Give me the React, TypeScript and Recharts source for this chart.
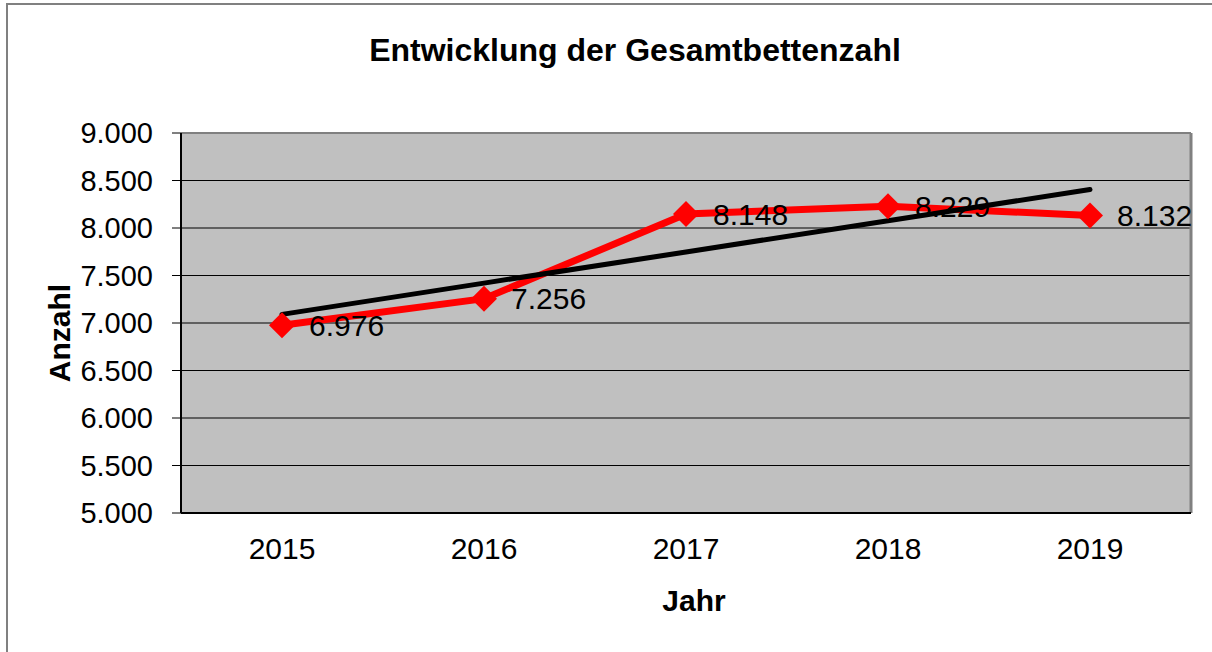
import React from 'react';
import { LineChart, Line, XAxis, YAxis, CartesianGrid, ReferenceLine, LabelList } from 'recharts';

const years = [2015, 2016, 2017, 2018, 2019];
const beds = [6976, 7256, 8148, 8229, 8132];
const trend = [7091, 7420, 7748, 8077, 8405];
const yTicks = [5000, 5500, 6000, 6500, 7000, 7500, 8000, 8500, 9000];
const bandEdges = [2014.5, 2015.5, 2016.5, 2017.5, 2018.5, 2019.5];

const data = years.map((y, i) => ({ year: y, beds: beds[i], trend: trend[i] }));

const fmt = (v: number) => v.toLocaleString('de-DE');
const FONT = 'Liberation Sans, Arial, sans-serif';

const Diamond = (props: any) => {
  const { cx, cy } = props;
  if (cx == null || cy == null) return null;
  const r = 13;
  return (
    <polygon
      points={`${cx},${cy - r} ${cx + r},${cy} ${cx},${cy + r} ${cx - r},${cy}`}
      fill="#FF0000"
      stroke="none"
    />
  );
};

const ValueLabel = (props: any) => {
  const { x, y, value } = props;
  return (
    <text x={x + 27} y={y} dy="0.36em" fontSize={30} fill="#000" fontFamily={FONT}>
      {fmt(value)}
    </text>
  );
};

export default function App() {
  return (
    <div style={{ position: 'absolute', left: 0, top: 0, width: 1212, height: 652, background: '#fff', overflow: 'hidden', fontFamily: FONT }}>
      <div style={{ position: 'absolute', left: 6, top: 3, width: 1300, height: 800, borderLeft: '2px solid #808080', borderTop: '2px solid #808080' }} />
      <div style={{ position: 'absolute', left: 0, top: 30, width: 1270, textAlign: 'center', fontSize: 32, fontWeight: 'bold', color: '#000', lineHeight: '40px' }}>
        Entwicklung der Gesamtbettenzahl
      </div>
      <div style={{ position: 'absolute', left: 60, top: 333, width: 0, height: 0 }}>
        <div style={{ position: 'absolute', left: -100, top: -20, width: 200, textAlign: 'center', fontSize: 30, fontWeight: 'bold', lineHeight: '40px', transform: 'rotate(-90deg)' }}>
          Anzahl
        </div>
      </div>
      <div style={{ position: 'absolute', left: 594, top: 581, width: 200, textAlign: 'center', fontSize: 30, fontWeight: 'bold', lineHeight: '40px' }}>
        Jahr
      </div>
      <div style={{ position: 'absolute', left: 0, top: 0 }}>
        <LineChart width={1212} height={652} data={data} margin={{ top: 133, right: 21, bottom: 98, left: 101 }}>
          <CartesianGrid xAxisId="grid" vertical={false} stroke="#000" strokeWidth={1} fill="#C0C0C0" fillOpacity={1} />
          <CartesianGrid xAxisId="grid" horizontal={false} stroke="#000" strokeWidth={1} strokeDasharray="5 3" />
          <XAxis
            xAxisId="grid"
            type="number"
            dataKey="year"
            domain={[2014.5, 2019.5]}
            ticks={bandEdges}
            tick={false}
            tickSize={8}
            height={1}
            axisLine={{ stroke: '#000', strokeWidth: 2 }}
            tickLine={{ stroke: '#000', strokeWidth: 1 }}
            allowDataOverflow
          />
          <XAxis
            xAxisId="years"
            type="number"
            dataKey="year"
            domain={[2014.5, 2019.5]}
            ticks={years}
            tickFormatter={(v: number) => String(v)}
            axisLine={false}
            tickLine={false}
            tickSize={0}
            tickMargin={24}
            height={40}
            tick={{ fontSize: 30, fill: '#000', fontFamily: FONT }}
            allowDataOverflow
          />
          <YAxis
            type="number"
            domain={[5000, 9000]}
            ticks={yTicks}
            tickFormatter={fmt}
            width={80}
            tickSize={9}
            tickMargin={19}
            axisLine={{ stroke: '#000', strokeWidth: 2 }}
            tickLine={{ stroke: '#000', strokeWidth: 1 }}
            tick={{ fontSize: 29, fill: '#000', fontFamily: FONT }}
            allowDataOverflow
            interval={0}
          />
          <ReferenceLine xAxisId="grid" y={9000} stroke="#808080" strokeWidth={2} />
          <ReferenceLine xAxisId="grid" x={2019.5} stroke="#808080" strokeWidth={3} />
          <Line
            xAxisId="grid"
            dataKey="beds"
            stroke="#FF0000"
            strokeWidth={7}
            dot={<Diamond />}
            activeDot={false}
            isAnimationActive={false}
          >
            <LabelList dataKey="beds" content={<ValueLabel />} />
          </Line>
          <Line
            xAxisId="grid"
            dataKey="trend"
            stroke="#000"
            strokeWidth={5}
            strokeLinecap="round"
            dot={false}
            activeDot={false}
            isAnimationActive={false}
          />
        </LineChart>
      </div>
    </div>
  );
}
